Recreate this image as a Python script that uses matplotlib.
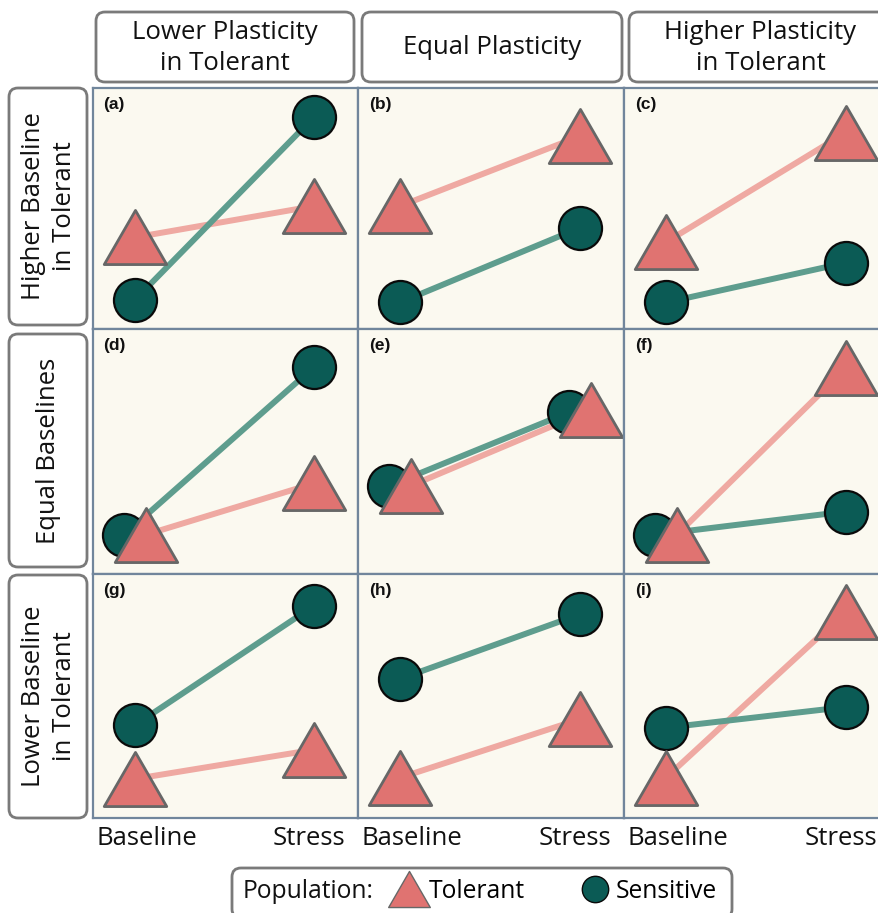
import matplotlib
matplotlib.use("Agg")
import matplotlib.pyplot as plt
from matplotlib.patches import FancyBboxPatch
from matplotlib.lines import Line2D
from matplotlib.path import Path
from matplotlib.transforms import ScaledTranslation
import numpy as np

# ---------------- data ----------------
col_labels = ["Lower Plasticity\nin Tolerant", "Equal Plasticity", "Higher Plasticity\nin Tolerant"]
row_labels = ["Higher Baseline\nin Tolerant", "Equal Baselines", "Lower Baseline\nin Tolerant"]
panel_tags = [["(a)", "(b)", "(c)"], ["(d)", "(e)", "(f)"], ["(g)", "(h)", "(i)"]]
conditions = ["Baseline", "Stress"]

sens_base = [[1.2, 1.1, 1.1], [1.6, 3.6, 1.6], [3.8, 5.7, 3.7]]
sens_stress = [[8.8, 4.2, 2.75], [8.45, 6.6, 2.55], [8.7, 8.35, 4.55]]
tol_base = [[3.8, 5.1, 3.6], [1.6, 3.6, 1.6], [1.6, 1.65, 1.65]]
tol_stress = [[5.1, 8.0, 8.15], [3.7, 6.7, 8.4], [2.8, 4.05, 8.45]]

# ---------------- style ----------------
W, H = 879, 913
DPI = 100
BG = "#FBF9F0"
BORDER = "#71869C"
SENS_FILL = "#0B5B55"
SENS_LINE = "#5E9D8E"
TOL_FILL = "#E07371"
TOL_EDGE = "#676767"
TOL_LINE = "#EFA9A2"
FONT = "Open Sans"
FS = 18.5
LFS = 17.7

plt.rcParams["font.family"] = [FONT, "DejaVu Sans"]

tri = Path([(-1, -0.866), (1, -0.866), (0, 0.866), (-1, -0.866)],
           [Path.MOVETO, Path.LINETO, Path.LINETO, Path.CLOSEPOLY])

fig = plt.figure(figsize=(W / DPI, H / DPI), dpi=DPI)
fig.patch.set_facecolor("white")

col_edges = [93, 358, 624, 890]
row_edges = [88, 329, 574, 818]


def px_rect(x0, y0, x1, y1):
    return [x0 / W, 1 - y1 / H, (x1 - x0) / W, (y1 - y0) / H]


dodge = 0.06
for r in range(3):
    for c in range(3):
        ax = fig.add_axes(px_rect(col_edges[c], row_edges[r], col_edges[c + 1], row_edges[r + 1]))
        ax.set_facecolor(BG)
        ax.set_xlim(-0.233, 1.245)
        ax.set_ylim(0, 10)
        for s in ax.spines.values():
            s.set_color(BORDER)
            s.set_linewidth(1.6)
        xs_s = np.array([0.0, 1.0])
        xs_t = np.array([0.0, 1.0])
        ys_s = [sens_base[r][c], sens_stress[r][c]]
        ys_t = [tol_base[r][c], tol_stress[r][c]]
        for k in range(2):
            if abs(ys_s[k] - ys_t[k]) < 1.0:
                xs_s[k] -= dodge
                xs_t[k] += dodge
        ax.plot(xs_t, ys_t, color=TOL_LINE, lw=4.3, solid_capstyle="butt", zorder=2)
        ax.plot(xs_s, ys_s, color=SENS_LINE, lw=4.3, solid_capstyle="butt", zorder=3)
        ax.plot(xs_s, ys_s, ls="none", marker="o", ms=31, mfc=SENS_FILL, mec="#0a0a0a",
                mew=1.6, zorder=4)
        ax.plot(xs_t, ys_t, ls="none", marker=tri, ms=45, mfc=TOL_FILL, mec=TOL_EDGE,
                mew=2.0, zorder=5)
        ax.text(0.04, 0.962, panel_tags[r][c], transform=ax.transAxes, ha="left", va="top",
                fontsize=12.5, fontweight="bold", family=["Liberation Sans", "DejaVu Sans"],
                color="#111111")
        if r == 2:
            ax.set_xticks([0, 1], conditions)
            ax.tick_params(axis="x", length=0, pad=6, labelsize=FS, labelcolor="#111111")
            offs = [12, -5]
            for lab, dx in zip(ax.get_xticklabels(), offs):
                lab.set_transform(lab.get_transform() +
                                  ScaledTranslation(dx / DPI, 0, fig.dpi_scale_trans))
        else:
            ax.set_xticks([])
        ax.set_yticks([])


def rbox(x0, y0, x1, y1):
    p = FancyBboxPatch((x0 / DPI, (H - y1) / DPI), (x1 - x0) / DPI, (y1 - y0) / DPI,
                       boxstyle="round,pad=0,rounding_size=0.09",
                       transform=fig.dpi_scale_trans, facecolor="white",
                       edgecolor="#7A7A7A", linewidth=2.0, clip_on=False)
    fig.patches.append(p)


# column headers
col_boxes = [(96, 354), (362, 622), (629, 892)]
for c, (x0, x1) in enumerate(col_boxes):
    rbox(x0, 12, x1, 82)
    fig.text((x0 + x1) / 2 / W, 1 - 48 / H, col_labels[c], ha="center", va="center",
             fontsize=FS, linespacing=1.3, color="#111111")

# row headers
row_boxes = [(88, 325), (334, 567), (575, 818)]
for r, (y0, y1) in enumerate(row_boxes):
    rbox(9, y0, 87, y1)
    fig.text(49 / W, 1 - (y0 + y1) / 2 / H, row_labels[r], ha="center", va="center",
             rotation=90, fontsize=FS, linespacing=1.3, color="#111111")

# legend
rbox(232, 868, 732, 918)
fig.text(243 / W, 1 - 891 / H, "Population:", ha="left", va="center", fontsize=LFS,
         color="#111111")
handles = [
    Line2D([], [], ls="none", marker=tri, ms=30, mfc=TOL_FILL, mec=TOL_EDGE, mew=1.0,
           label="Tolerant"),
    Line2D([], [], ls="none", marker="o", ms=19, mfc=SENS_FILL, mec="#0a0a0a", mew=1.0,
           label="Sensitive"),
]
fig.legend(handles=handles, loc="center left", bbox_to_anchor=(395 / W, 1 - 891 / H),
           ncol=2, frameon=False, fontsize=LFS, handlelength=1.1, handletextpad=0.28,
           columnspacing=2.3, borderpad=0, borderaxespad=0)

fig.savefig("out.png", dpi=DPI, facecolor="white")
